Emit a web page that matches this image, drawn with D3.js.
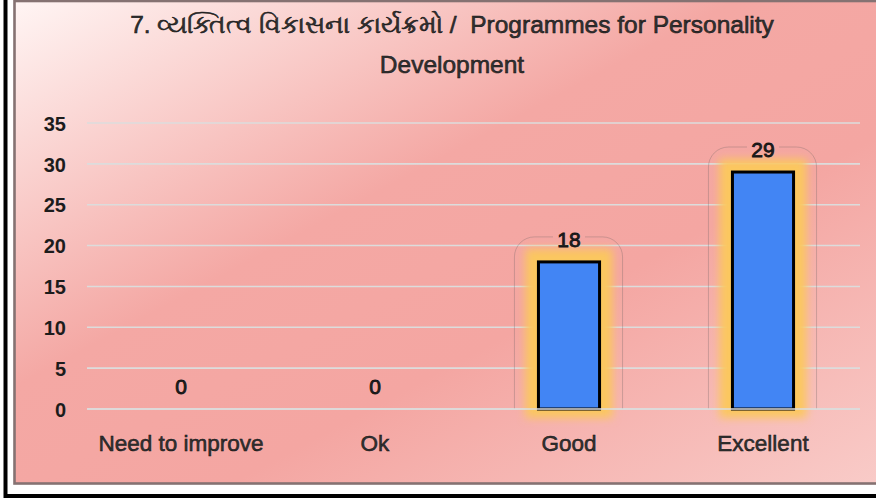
<!DOCTYPE html>
<html>
<head>
<meta charset="utf-8">
<script src="https://cdn.jsdelivr.net/npm/d3@7"></script>
<style>
  html, body { margin: 0; padding: 0; background: #fff; overflow: hidden; }
  svg { display: block; font-family: Arial, "Liberation Sans", sans-serif; }
  .title { white-space: pre; }
</style>
</head>
<body>
<div id="chart"></div>
<script>
const titleLines = [
  "7. વ્યક્તિત્વ વિકાસના કાર્યક્રમો /  Programmes for Personality",
  "Development",
];
const categories = ["Need to improve", "Ok", "Good", "Excellent"];
const counts = [0, 0, 18, 29];
const yTicks = [0, 5, 10, 15, 20, 25, 30, 35];

const width = 876;
const height = 498;
const margin = { top: 123, right: 16, bottom: 89, left: 84 };

const svg = d3
  .select("#chart")
  .append("svg")
  .attr("width", width)
  .attr("height", height);

const defs = svg.append("defs");

const grad = defs
  .append("linearGradient")
  .attr("id", "bg")
  .attr("x1", 0)
  .attr("y1", 0)
  .attr("x2", 1)
  .attr("y2", 1);
grad.append("stop").attr("offset", 0).attr("stop-color", "#fff5f4");
grad.append("stop").attr("offset", 0.4).attr("stop-color", "#f4a8a4");
grad.append("stop").attr("offset", 0.62).attr("stop-color", "#f4a6a2");
grad.append("stop").attr("offset", 1).attr("stop-color", "#f9cdca");

defs
  .append("filter")
  .attr("id", "glow")
  .attr("x", "-50%")
  .attr("y", "-50%")
  .attr("width", "200%")
  .attr("height", "200%")
  .append("feGaussianBlur")
  .attr("stdDeviation", 4.5);

// outer frame
svg
  .append("rect")
  .attr("x", 5.5)
  .attr("y", -10)
  .attr("width", 900)
  .attr("height", 506)
  .attr("fill", "none")
  .attr("stroke", "#000")
  .attr("stroke-width", 4);

// panel
svg
  .append("rect")
  .attr("x", 14.5)
  .attr("y", 1)
  .attr("width", 900)
  .attr("height", 482.5)
  .attr("fill", "url(#bg)")
  .attr("stroke", "#857272")
  .attr("stroke-width", 2.6);

const x = d3
  .scaleBand()
  .domain(categories)
  .range([margin.left, width - margin.right])
  .paddingInner(0.685)
  .paddingOuter(0.3425);

const y = d3
  .scaleLinear()
  .domain([0, 35])
  .range([height - margin.bottom, margin.top]);

// title
svg
  .append("g")
  .selectAll("text")
  .data(titleLines)
  .join("text")
  .attr("class", "title")
  .attr("x", 452)
  .attr("y", (d, i) => 33 + i * 40)
  .attr("text-anchor", "middle")
  .attr("font-size", 24.5)
  .attr("fill", "#333")
  .attr("stroke", "#111")
  .attr("stroke-width", 0.55)
  .text((d) => d);

// grid
svg
  .append("g")
  .selectAll("line")
  .data(yTicks)
  .join("line")
  .attr("x1", 87)
  .attr("x2", 860)
  .attr("y1", (d) => y(d))
  .attr("y2", (d) => y(d))
  .attr("stroke", "#dcdcdc")
  .attr("stroke-width", 1.6);

// y axis labels
const gY = svg
  .append("g")
  .attr("transform", `translate(66,0)`)
  .call(d3.axisLeft(y).tickValues(yTicks).tickSize(0).tickPadding(0))
  .call((g) => g.select(".domain").remove());
gY.selectAll("text")
  .attr("font-family", "Arial, 'Liberation Sans', sans-serif")
  .attr("font-size", 20)
  .attr("font-weight", "bold")
  .attr("fill", "#1c1c1c")
  .attr("dy", "0.36em");

const data = categories.map((c, i) => ({ cat: c, value: counts[i] }));
const bars = data.filter((d) => d.value > 0);

// faint outline around glow
const outline = svg.append("g");
bars.forEach((d) => {
  const x0 = x(d.cat) - 24;
  const x1 = x(d.cat) + x.bandwidth() + 23;
  const top = y(d.value) - 25;
  const base = y(0);
  const r = 20;
  const cx = x(d.cat) + x.bandwidth() / 2;
  const gap = 16;
  const p = d3.path();
  p.moveTo(x0, base);
  p.lineTo(x0, top + r);
  p.arcTo(x0, top, x0 + r, top, r);
  p.lineTo(cx - gap, top);
  p.moveTo(cx + gap, top);
  p.lineTo(x1 - r, top);
  p.arcTo(x1, top, x1, top + r, r);
  p.lineTo(x1, base);
  outline
    .append("path")
    .attr("d", p.toString())
    .attr("fill", "none")
    .attr("stroke", "#7a6a6a")
    .attr("stroke-opacity", 0.35)
    .attr("stroke-width", 1);
});

// glow
svg
  .append("g")
  .selectAll("rect")
  .data(bars)
  .join("rect")
  .attr("x", (d) => x(d.cat) - 4)
  .attr("y", (d) => y(d.value) - 4)
  .attr("width", x.bandwidth() + 8)
  .attr("height", (d) => y(0) - y(d.value) + 4)
  .attr("fill", "#fbc75e")
  .attr("stroke", "#fbc75e")
  .attr("stroke-width", 18)
  .attr("filter", "url(#glow)");

// bars
svg
  .append("g")
  .selectAll("rect")
  .data(bars)
  .join("rect")
  .attr("x", (d) => x(d.cat))
  .attr("y", (d) => y(d.value))
  .attr("width", x.bandwidth())
  .attr("height", (d) => y(0) - y(d.value))
  .attr("fill", "#4285f4")
  .attr("stroke", "#000")
  .attr("stroke-width", 3);

// redraw baseline over glow
svg
  .append("line")
  .attr("x1", 87)
  .attr("x2", 860)
  .attr("y1", y(0))
  .attr("y2", y(0))
  .attr("stroke", "#dcdcdc")
  .attr("stroke-width", 1.6);

// value labels
svg
  .append("g")
  .selectAll("text")
  .data(data)
  .join("text")
  .attr("x", (d) => x(d.cat) + x.bandwidth() / 2)
  .attr("y", (d) => y(d.value) - 15)
  .attr("text-anchor", "middle")
  .attr("font-size", 21)
  .attr("fill", "#222")
  .attr("stroke", "#111")
  .attr("stroke-width", 0.8)
  .text((d) => d.value);

// category labels
svg
  .append("g")
  .selectAll("text")
  .data(categories)
  .join("text")
  .attr("x", (d) => x(d) + x.bandwidth() / 2)
  .attr("y", 451)
  .attr("text-anchor", "middle")
  .attr("font-size", 22.5)
  .attr("fill", "#333")
  .attr("stroke", "#111")
  .attr("stroke-width", 0.5)
  .text((d) => d);
</script>
</body>
</html>
